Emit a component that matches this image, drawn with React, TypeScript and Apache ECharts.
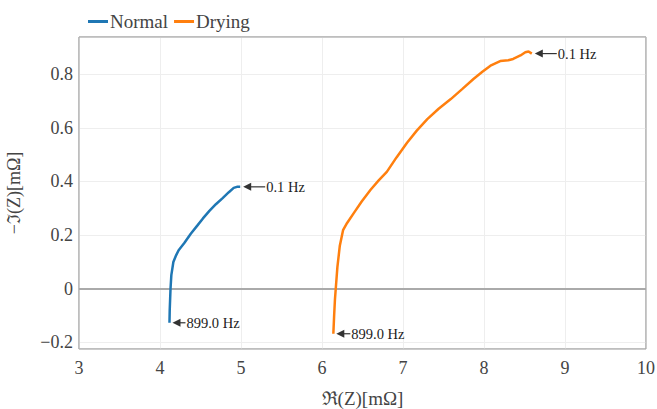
import React, { useEffect, useRef } from "react";
import * as echarts from "echarts";

const seriesNames = ["Normal", "Drying"];
const normalX = [4.117, 4.12, 4.125, 4.13, 4.14, 4.165, 4.2, 4.23, 4.3, 4.38, 4.46, 4.53, 4.61, 4.69, 4.77, 4.85, 4.91, 4.95, 4.99];
const normalY = [-0.128, -0.08, -0.04, 0.0, 0.05, 0.099, 0.125, 0.143, 0.17, 0.205, 0.235, 0.262, 0.29, 0.315, 0.337, 0.36, 0.376, 0.38, 0.38];
const dryingX = [6.14, 6.15, 6.16, 6.17, 6.19, 6.22, 6.26, 6.31, 6.39, 6.49, 6.6, 6.7, 6.8, 6.92, 7.05, 7.17, 7.3, 7.44, 7.59, 7.73, 7.87, 7.98, 8.08, 8.2, 8.3, 8.36, 8.45, 8.51, 8.55, 8.59];
const dryingY = [-0.169, -0.1, -0.04, 0.0, 0.08, 0.16, 0.218, 0.245, 0.281, 0.325, 0.369, 0.404, 0.436, 0.49, 0.545, 0.59, 0.633, 0.672, 0.708, 0.745, 0.783, 0.81, 0.833, 0.85, 0.853, 0.858, 0.871, 0.883, 0.886, 0.878];
const annotations = [
  { x: 4.99, y: 0.38, text: "0.1 Hz", gap: 22 },
  { x: 4.117, y: -0.128, text: "899.0 Hz", gap: 13 },
  { x: 8.59, y: 0.878, text: "0.1 Hz", gap: 22 },
  { x: 6.14, y: -0.169, text: "899.0 Hz", gap: 14 },
];
const xTitle = "\u211C(Z)[m\u03A9]";
const yTitle = "\u2212\u2111(Z)[m\u03A9]";

const SERIF = "Liberation Serif";
const COLORS = ["#1f77b4", "#ff7f0e"];

export default function App() {
  const ref = useRef<HTMLDivElement>(null);
  useEffect(() => {
    if (!ref.current) return;
    const chart = echarts.init(ref.current, null, { renderer: "svg" });
    const fmt = (v: number) => {
      const r = parseFloat(v.toFixed(2));
      return r < 0 ? "\u2212" + Math.abs(r) : String(r);
    };
    const tickText = { fontFamily: SERIF, fontSize: 18, color: "#444" };
    chart.setOption({
      animation: false,
      backgroundColor: "#fff",
      color: COLORS,
      textStyle: { fontFamily: SERIF },
      legend: {
        left: 83,
        top: 7,
        icon: "rect",
        itemWidth: 20,
        itemHeight: 3,
        itemGap: 6,
        textStyle: { fontFamily: SERIF, fontSize: 19, color: "#444", padding: [0, 0, 0, -3] },
        data: seriesNames,
      },
      grid: {
        left: 79,
        right: 11,
        top: 37,
        bottom: 60,
        outerBoundsMode: "none",
        containLabel: false,
        show: true,
        borderColor: "#a8a8a8",
        borderWidth: 1,
      },
      xAxis: {
        type: "value",
        min: 3,
        max: 10,
        interval: 1,
        name: xTitle,
        nameLocation: "middle",
        nameGap: 40,
        nameTextStyle: { fontFamily: SERIF, fontSize: 19, color: "#444" },
        axisLine: { show: false },
        axisTick: { show: false },
        axisLabel: { ...tickText, margin: 10 },
        splitLine: { lineStyle: { color: "#eee", width: 1 } },
      },
      yAxis: {
        type: "value",
        min: -0.226,
        max: 0.94,
        splitNumber: 6,
        name: yTitle,
        nameLocation: "middle",
        nameGap: 56,
        nameRotate: 90,
        nameTextStyle: { fontFamily: SERIF, fontSize: 18, color: "#444" },
        axisLine: { show: false },
        axisTick: { show: false },
        axisLabel: {
          ...tickText,
          margin: 6,
          showMinLabel: false,
          showMaxLabel: false,
          formatter: (v: number) => fmt(v),
        },
        splitLine: { lineStyle: { color: "#eee", width: 1 } },
      },
      series: [
        {
          name: seriesNames[0],
          type: "line",
          showSymbol: false,
          data: normalX.map((x, i) => [x, normalY[i]]),
          lineStyle: { width: 2.5, color: COLORS[0] },
          z: 3,
          markLine: {
            silent: true,
            symbol: ["none", "none"],
            label: { show: false },
            lineStyle: { color: "#aaa", width: 2, type: "solid" },
            data: [{ yAxis: 0 }],
            z: 1,
          },
        },
        {
          name: seriesNames[1],
          type: "line",
          showSymbol: false,
          data: dryingX.map((x, i) => [x, dryingY[i]]),
          lineStyle: { width: 2.5, color: COLORS[1] },
          z: 3,
        },
      ],
    });

    const elems: any[] = [];
    const p00 = chart.convertToPixel({ gridIndex: 0 }, [3, -0.226]) as number[];
    const p11 = chart.convertToPixel({ gridIndex: 0 }, [10, 0.94]) as number[];
    elems.push({
      type: "rect",
      shape: { x: p00[0], y: p11[1], width: p11[0] - p00[0], height: p00[1] - p11[1] },
      style: { fill: "none", stroke: "#a8a8a8", lineWidth: 1 },
      silent: true,
      z: 5,
    });
    annotations.forEach((a) => {
      const p = chart.convertToPixel({ gridIndex: 0 }, [a.x, a.y]) as number[];
      const tip = p[0] + 3;
      const y = p[1];
      elems.push({
        type: "polygon",
        shape: { points: [[tip, y], [tip + 8, y - 4], [tip + 8, y + 4]] },
        style: { fill: "#333" },
        z: 10,
      });
      elems.push({
        type: "line",
        shape: { x1: tip + 6, y1: y, x2: tip + a.gap, y2: y },
        style: { stroke: "#333", lineWidth: 1.2 },
        z: 10,
      });
      elems.push({
        type: "text",
        x: tip + a.gap + 1,
        y: y,
        style: {
          text: a.text,
          font: `14.5px ${SERIF}`,
          fill: "#222",
          textAlign: "left",
          textVerticalAlign: "middle",
        },
        z: 10,
      });
    });
    chart.setOption({ graphic: elems });

    return () => chart.dispose();
  }, []);
  return (
    <div
      ref={ref}
      style={{ position: "fixed", left: 0, top: 0, width: 657, height: 409 }}
    />
  );
}
